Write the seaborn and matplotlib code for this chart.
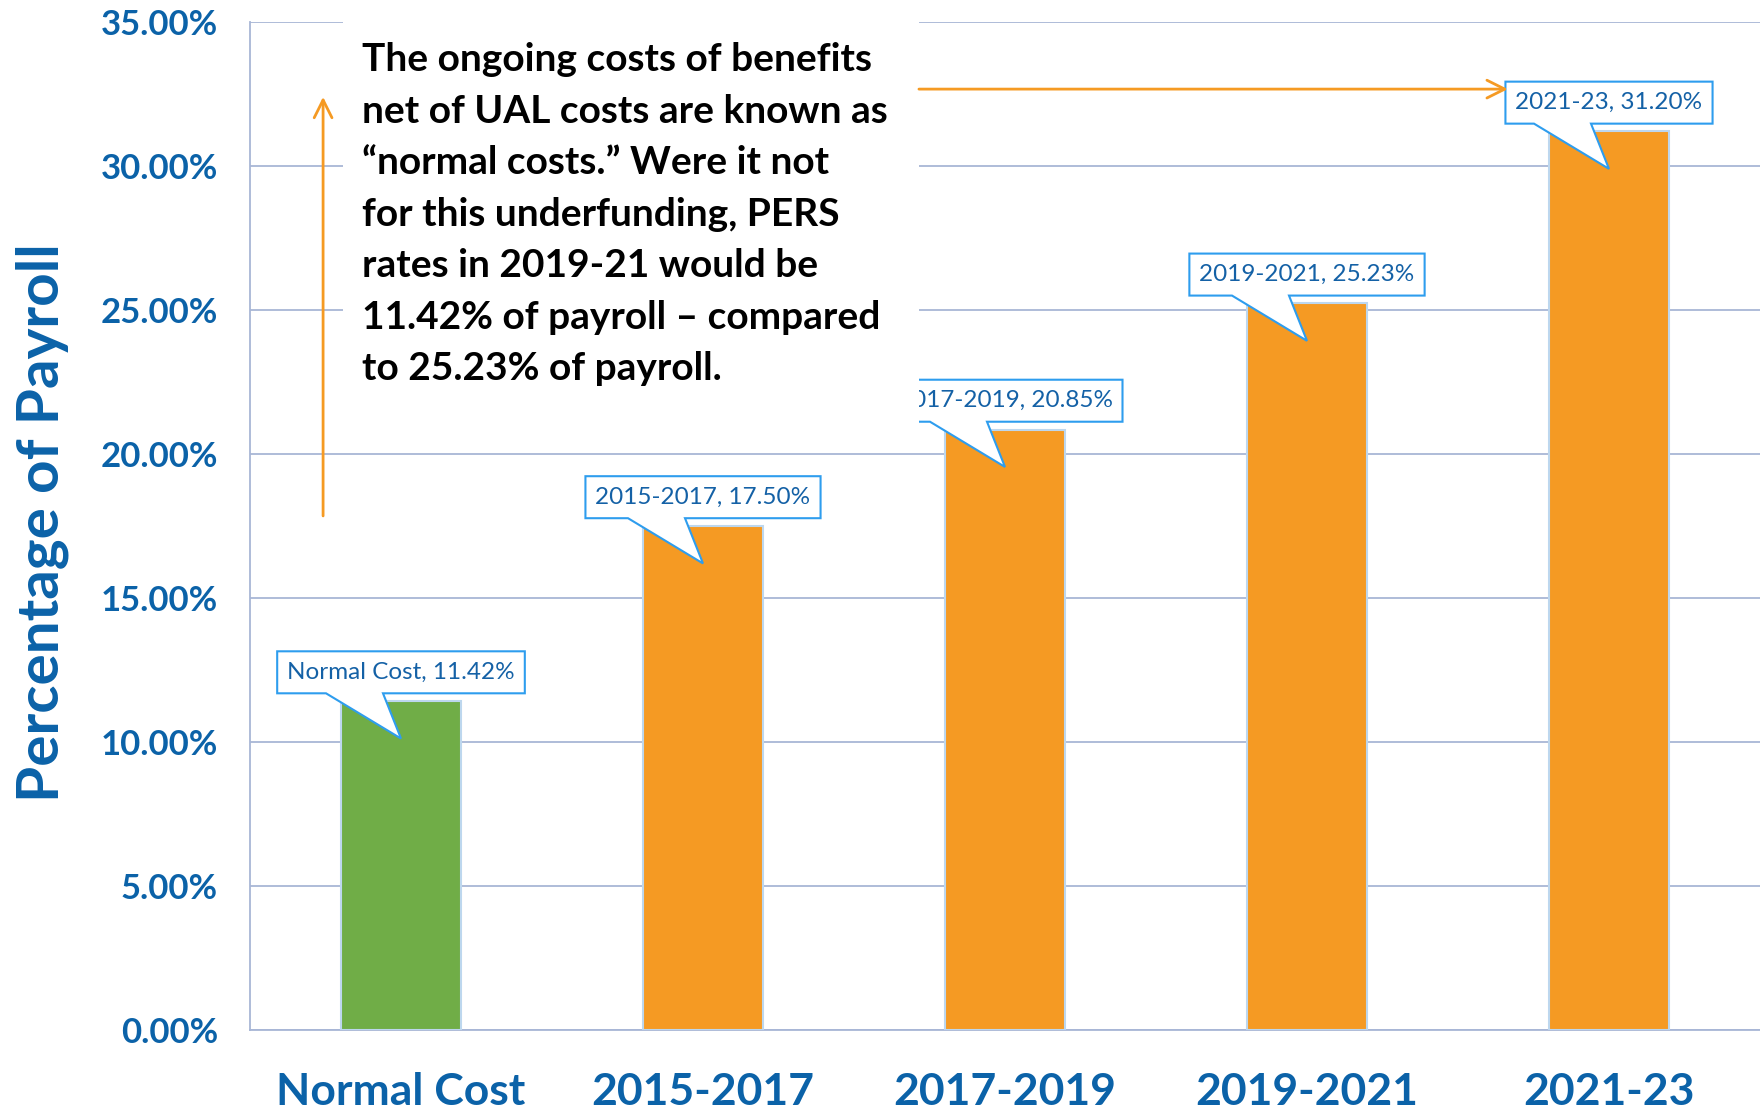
import numpy as np
import pandas as pd
import seaborn as sns
import matplotlib.pyplot as plt
from matplotlib.patches import Polygon, Rectangle
from matplotlib.transforms import IdentityTransform

# chart data
periods = ["Normal Cost", "2015-2017", "2017-2019", "2019-2021", "2021-23"]
rates = [11.42, 17.50, 20.85, 25.23, 31.20]
bar_colors = ["#70AD47", "#F59A23", "#F59A23", "#F59A23", "#F59A23"]
y_ticks = [0, 5, 10, 15, 20, 25, 30, 35]
note_lines = [
    "The ongoing costs of benefits",
    "net of UAL costs are known as",
    "\u201cnormal costs.\u201d Were it not",
    "for this underfunding, PERS",
    "rates in 2019-21 would be",
    "11.42% of payroll \u2013 compared",
    "to 25.23% of payroll.",
]

blue = "#0B62A8"
grid_c = "#A8B6D6"
orange = "#F59A23"

sns.set_style("white")
plt.rcParams['font.family'] = ['Lato', 'DejaVu Sans']

df = pd.DataFrame({"period": periods, "rate": rates})

fig = plt.figure(figsize=(17.6, 11.13), dpi=100)
ax = fig.add_axes([250 / 1760, 1 - 1030 / 1113, 1510 / 1760, 1008 / 1113])

sns.barplot(data=df, x="period", y="rate", hue="period", palette=bar_colors,
            saturation=1, width=0.4, edgecolor="#BDD7EE", linewidth=1.5,
            legend=False, ax=ax, zorder=3)

ax.set_xlim(-0.5, 4.5)
ax.set_ylim(0, 35)
ax.set_yticks(y_ticks)
ax.set_yticklabels([f"{t:.2f}%" for t in y_ticks])
ax.yaxis.grid(True, color=grid_c, lw=1.3)
ax.set_axisbelow(True)
for s in ["top", "right"]:
    ax.spines[s].set_visible(False)
for s in ["left", "bottom"]:
    ax.spines[s].set_color(grid_c)
    ax.spines[s].set_linewidth(1.3)

ax.tick_params(axis="y", length=9, width=1.3, color=grid_c, pad=14,
               labelsize=25, labelcolor=blue)
for lab in ax.get_yticklabels():
    lab.set_fontweight("bold")
ax.set_xticks(np.arange(-0.5, 5, 1), minor=True)
ax.tick_params(axis="x", which="minor", length=12, width=1.3, color=grid_c, direction="out")
ax.tick_params(axis="x", which="major", length=0, pad=30, labelsize=32, labelcolor=blue)
for lab in ax.get_xticklabels():
    lab.set_fontweight("bold")
ax.set_xlabel("")
ax.set_ylabel("Percentage of Payroll", fontsize=42, fontweight="bold", color=blue)
ax.yaxis.set_label_coords(-0.12, 0.503)

# callout labels
texts = []
for i, (p, v) in enumerate(zip(periods, rates)):
    t = ax.text(i, v + 1.0, f"{p}, {v:.2f}%", ha="center", va="center",
                fontsize=17.5, color="#1461A6", zorder=5)
    texts.append(t)

fig.canvas.draw()
r = fig.canvas.get_renderer()
for i, (t, v) in enumerate(zip(texts, rates)):
    bb = t.get_window_extent(r)
    cx, cy = ax.transData.transform((i, v + 1.0))
    tx, ty = ax.transData.transform((i, v - 1.3))
    x0, x1 = bb.x0 - 10, bb.x1 + 10
    y0, y1 = cy - 21, cy + 21
    verts = [(x0, y1), (x1, y1), (x1, y0), (cx - 18, y0), (tx, ty),
             (cx - 75, y0), (x0, y0)]
    ax.add_patch(Polygon(verts, closed=True, facecolor="white", edgecolor="#2E9DEE",
                         lw=1.5, transform=IdentityTransform(), zorder=4))

# white note box covering the grid
ax.add_patch(Rectangle((-0.192, 21.0), 1.907, 15, facecolor="white",
                       edgecolor="none", zorder=6, clip_on=False))
ax.text(-0.129, 34.3, "\n".join(note_lines), ha="left", va="top",
        fontsize=28, fontweight="bold", color="black", linespacing=1.57, zorder=7)

ax.annotate("", xy=(-0.258, 32.4), xytext=(-0.258, 17.85),
            arrowprops=dict(arrowstyle="->", color=orange, lw=2,
                            mutation_scale=32, shrinkA=0, shrinkB=0), zorder=7)
ax.annotate("", xy=(3.665, 32.67), xytext=(1.715, 32.67),
            arrowprops=dict(arrowstyle="->", color=orange, lw=2,
                            mutation_scale=32, shrinkA=0, shrinkB=0), zorder=7)

fig.savefig("out.png", dpi=100)
